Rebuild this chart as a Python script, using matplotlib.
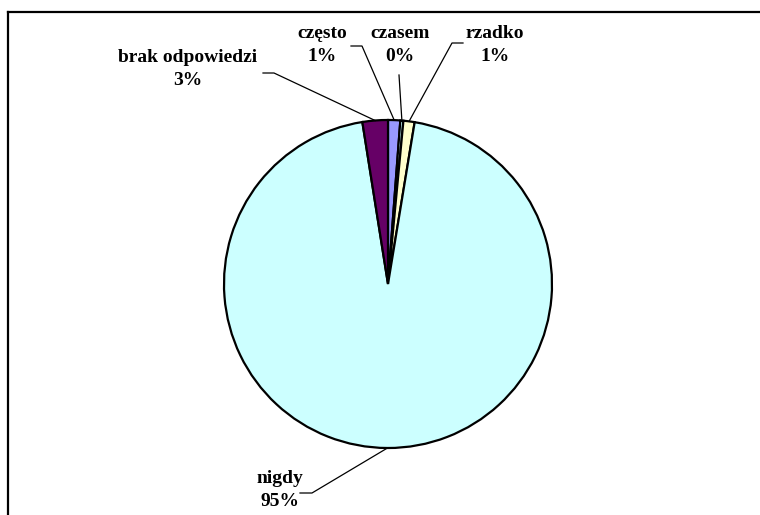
import numpy as np
import matplotlib.pyplot as plt
from matplotlib.lines import Line2D

plt.rcParams['font.family'] = ['Liberation Serif', 'DejaVu Serif']

categories = ['często', 'czasem', 'rzadko', 'nigdy', 'brak odpowiedzi']
values = [1.2, 0.3, 1.1, 94.9, 2.5]
pct_labels = ['1%', '0%', '1%', '95%', '3%']
colors = ['#9999FF', '#CCFFFF', '#FFFFCC', '#CCFFFF', '#660066']

W, H = 760, 515
fig = plt.figure(figsize=(W / 100, H / 100), dpi=100)
ax = fig.add_axes([0, 0, 1, 1])

cx, cy, r = 388, H - 284, 164
wedges, _ = ax.pie(values, colors=colors, startangle=90, counterclock=False,
                   center=(cx, cy), radius=r, frame=True,
                   wedgeprops=dict(edgecolor='black', linewidth=1.6))
ax.set_xlim(0, W)
ax.set_ylim(0, H)
ax.axis('off')

# label layout (pixel coords, y from top): text centre, leader start points
text_pos = [(322, 45), (400, 45), (495, 45), (280, 490), (188, 69)]
leader_start = [[(351, 46), (362, 46)],
                [(399, 75)],
                [(463, 43), (452, 43)],
                [(300, 493), (312, 493)],
                [(263, 73), (274, 73)]]

for w, cat, pct, tp, ls in zip(wedges, categories, pct_labels, text_pos, leader_start):
    ang = np.deg2rad((w.theta1 + w.theta2) / 2)
    ex, ey = cx + r * np.cos(ang), cy + r * np.sin(ang)
    xs = [p[0] for p in ls] + [ex]
    ys = [H - p[1] for p in ls] + [ey]
    ax.plot(xs, ys, color='black', lw=0.9)
    ax.text(tp[0], H - tp[1], f'{cat}\n{pct}', ha='center', va='center',
            fontsize=14, fontweight='bold', linespacing=1.45)

# chart area border
fig.add_artist(Line2D([8 / W, 1], [1 - 12 / H, 1 - 12 / H], color='black', lw=1.6))
fig.add_artist(Line2D([8 / W, 8 / W], [0, 1 - 12 / H], color='black', lw=1.6))

fig.savefig('out.png', dpi=100)
